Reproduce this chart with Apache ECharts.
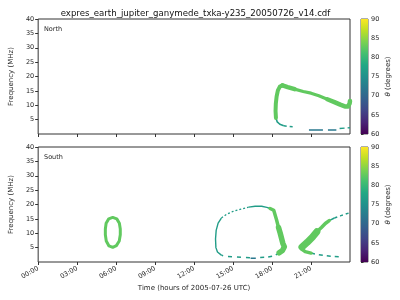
<!DOCTYPE html>
<html><head><meta charset="utf-8">
<script src="https://cdn.jsdelivr.net/npm/echarts@6/dist/echarts.min.js"></script>
<style>html,body{margin:0;padding:0;background:#fff}#c{width:400px;height:300px}</style>
</head><body><div id="c"></div>
<script>
// ---------- data ----------
const chartTitle = 'expres_earth_jupiter_ganymede_txka-y235_20050726_v14.cdf';
const panelNames = ['North', 'South'];
const xTickHours = [0, 3, 6, 9, 12, 15, 18, 21];
const yTicks = [5, 10, 15, 20, 25, 30, 35, 40];
const cbRange = [60, 90];

const thetaCore = 82.6;
const thetaEdge = 76.5;
const thetaFloor = 72;

// North panel: [hour, MHz]
const nRise   = [[18.30,5.6],[18.27,8.0],[18.29,10.5],[18.35,13.0],[18.45,15.2],[18.60,16.5],[18.80,16.9]];
const nPeak   = [[18.80,16.9],[19.20,16.3],[19.74,15.6]];
const nSlope  = [[19.74,15.6],[20.40,14.8],[21.00,14.2],[21.60,13.3],[22.25,12.1]];
const nTrough = [[22.25,12.1],[22.80,11.1],[23.25,10.2],[23.60,9.6],[23.85,9.6],[23.97,10.6],[24.00,11.5]];
const nTail   = [[18.30,5.6],[18.40,4.2],[18.60,3.4],[18.90,2.9]];
const nTailD  = [[18.90,2.9],[19.30,2.6],[19.70,2.5]];
const nFloor  = [[20.84,1.4],[22.95,1.4]];
const nEnd    = [[23.20,1.9],[24.00,2.2]];

// South panel: [hour, MHz]
const sRing   = [[5.74,15.5],[6.05,15.0],[6.25,13.5],[6.32,11.5],[6.32,9.5],[6.24,7.3],[6.02,5.7],[5.74,5.1],[5.45,5.6],[5.24,7.3],[5.17,9.5],[5.17,11.5],[5.23,13.5],[5.43,15.0],[5.74,15.5]];
const sArchL  = [[14.10,2.4],[13.80,3.5],[13.68,5.0],[13.65,8.0],[13.70,11.0],[13.85,13.5],[14.10,15.3]];
const sArchT  = [[14.10,15.3],[14.50,16.6],[15.00,17.6],[15.60,18.4],[16.20,19.1]];
const sArchTR = [[16.20,19.1],[16.70,19.4],[17.20,19.4],[17.60,19.0],[17.85,18.6]];
const sArchR1 = [[17.85,18.6],[18.13,18.0],[18.35,14.6],[18.50,12.0]];
const sArchR2 = [[18.50,12.0],[18.63,10.0],[18.83,6.5],[18.95,5.3],[18.80,4.0],[18.55,3.2]];
const sFloor  = [[18.55,3.2],[18.20,2.2],[17.70,1.7],[17.00,1.55],[16.80,1.45]];
const sFloorL = [[16.30,1.5],[15.20,1.8],[14.40,1.9],[14.10,2.4]];
const sFloorD = [[16.35,1.3],[16.75,1.3]];
const sWedge  = [[20.30,5.2],[20.70,6.8],[21.10,8.6],[21.45,10.5]];
const sWedgeU = [[21.45,10.5],[21.80,12.0],[22.10,13.4],[22.40,14.4]];
const sArmU   = [[22.40,14.4],[22.80,15.3]];
const sArmUD  = [[22.80,15.3],[23.30,16.1],[24.00,17.2]];
const sWedgeL = [[20.25,4.6],[20.55,3.6],[21.00,3.1]];
const sArmL   = [[21.00,3.1],[21.50,2.6],[22.00,2.3],[22.50,2.0],[23.20,1.8]];

// ---------- styles ----------
const viridisStops = ['#440154','#482475','#414487','#355f8d','#2a788e','#21918c','#22a884','#44bf70','#7ad151','#bddf26','#fde725'];
function hex(c){return [1,3,5].map(i=>parseInt(c.substr(i,2),16));}
function viridis(t){
  t=Math.max(0,Math.min(1,t)); const n=viridisStops.length-1; const i=Math.min(n-1,Math.floor(t*n)); const f=t*n-i;
  const a=hex(viridisStops[i]), b=hex(viridisStops[i+1]);
  return 'rgb('+a.map((v,k)=>Math.round(v+(b[k]-v)*f)).join(',')+')';
}
function thetaColor(th){return viridis((th-cbRange[0])/(cbRange[1]-cbRange[0]));}

const F = 'DejaVu Sans';
const TXT = '#262626';
const segments = [
  // [points, theta, panel, width, dash, roundCap]
  [nTail, thetaEdge, 0, 1.6, null, false],
  [nTailD, thetaEdge, 0, 1.5, [3,3], false],
  [nFloor, thetaFloor, 0, 1.5, [14,5], false],
  [nEnd, thetaEdge, 0, 1.5, [5,3], false],
  [nRise, thetaCore, 0, 4, null, true],
  [nPeak, thetaCore, 0, 4.5, null, true],
  [nSlope, thetaCore, 0, 3.2, null, true],
  [nTrough, thetaCore, 0, 4.5, null, true],
  [sRing, thetaCore, 1, 3, null, true],
  [sArchL, thetaEdge, 1, 1.4, null, false],
  [sArchT, thetaEdge, 1, 1.3, [2,2], false],
  [sArchTR, thetaEdge, 1, 1.4, null, false],
  [sFloor, thetaEdge, 1, 1.5, [4,4], false],
  [sFloorL, thetaEdge, 1, 1.5, [4,5], false],
  [sFloorD, thetaFloor, 1, 1.5, null, false],
  [sArmU, thetaEdge, 1, 1.5, null, false],
  [sArmUD, thetaEdge, 1, 1.4, [3,3], false],
  [sArmL, thetaEdge, 1, 1.5, [4,4], false],
  [sArchR1, thetaCore, 1, 3.5, null, true],
  [sArchR2, thetaCore, 1, 5.5, null, true],
  [sWedgeL, thetaCore, 1, 3.5, null, true],
  [sWedge, thetaCore, 1, 7, null, true],
  [sWedgeU, thetaCore, 1, 3.5, null, true]
];

const plotTops = [19, 147];
const plotH = 115;
const hourLabel = v => v >= 24 ? '' : (v < 10 ? '0' : '') + v + ':00';

const grids = [], xAxes = [], yAxes = [], series = [];
plotTops.forEach((top, p) => {
  grids.push({left: 31, width: 319, top: top, height: plotH, show: true, borderColor: '#333', borderWidth: 1, backgroundColor: '#fff'});
  xAxes.push({
    gridIndex: p, type: 'value', min: 0, max: 24, interval: 3,
    axisLine: {show: false}, splitLine: {show: false},
    axisTick: {show: true, inside: false, length: 3, customValues: xTickHours, lineStyle: {color: '#333'}},
    axisLabel: p === 1 ? {show: true, formatter: hourLabel, rotate: 30, align: 'right', verticalAlign: 'middle', fontFamily: F, fontSize: 6.5, color: TXT, margin: 6} : {show: false},
    name: p === 1 ? 'Time (hours of 2005-07-26 UTC)' : '', nameLocation: 'middle', nameGap: 23,
    nameTextStyle: {fontFamily: F, fontSize: 7, color: TXT}
  });
  yAxes.push({
    gridIndex: p, type: 'value', min: 0, max: 40,
    axisLine: {show: false}, splitLine: {show: false},
    axisTick: {show: true, inside: false, length: 3, customValues: yTicks, lineStyle: {color: '#333'}},
    axisLabel: {customValues: yTicks, fontFamily: F, fontSize: 6.5, color: TXT, margin: 4},
    name: 'Frequency (MHz)', nameLocation: 'middle', nameGap: 17,
    nameTextStyle: {fontFamily: F, fontSize: 7, color: TXT}
  });
});
// colorbars
plotTops.forEach((top, p) => {
  grids.push({left: 361, width: 7, top: top, height: plotH, show: true, borderColor: '#333', borderWidth: 0.8});
  xAxes.push({gridIndex: 2 + p, type: 'value', min: 0, max: 1, show: false});
  yAxes.push({
    gridIndex: 2 + p, type: 'value', min: cbRange[0], max: cbRange[1], interval: 5, position: 'right',
    axisLine: {show: false}, splitLine: {show: false},
    axisTick: {show: true, inside: false, length: 2.5, lineStyle: {color: '#333'}},
    axisLabel: {fontFamily: F, fontSize: 6.5, color: TXT, margin: 3},
    name: '{i|θ} (degrees)', nameLocation: 'middle', nameGap: 17, nameRotate: 90,
    nameTextStyle: {fontFamily: F, fontSize: 7, color: TXT, rich: {i: {fontStyle: 'italic', fontFamily: F, fontSize: 7, color: TXT}}}
  });
  series.push({
    type: 'custom', xAxisIndex: 2 + p, yAxisIndex: 2 + p, silent: true,
    data: [[0, cbRange[0], 1, cbRange[1]]],
    renderItem: (params, api) => {
      const a = api.coord([api.value(0), api.value(1)]);
      const b = api.coord([api.value(2), api.value(3)]);
      return {type: 'rect', shape: {x: a[0], y: b[1], width: b[0] - a[0], height: a[1] - b[1]},
        style: {fill: new echarts.graphic.LinearGradient(0, 1, 0, 0, viridisStops.map((c, i) => ({offset: i / (viridisStops.length - 1), color: c})))}};
    }
  });
});

segments.forEach(([pts, th, p, w, dash, rc]) => {
  series.push({
    type: 'line', xAxisIndex: p, yAxisIndex: p, data: pts, symbol: 'none', silent: true, clip: true,
    animation: false,
    lineStyle: {color: thetaColor(th), width: w, type: dash || 'solid', cap: rc ? 'round' : 'butt', join: 'round'}
  });
});

const chart = echarts.init(document.getElementById('c'), null, {renderer: 'canvas'});
chart.setOption({
  animation: false,
  backgroundColor: '#fff',
  title: {text: chartTitle, left: 190.5, textAlign: 'center', top: 4, textStyle: {fontFamily: F, fontSize: 8.6, fontWeight: 'normal', color: '#111'}},
  graphic: panelNames.map((t, p) => ({type: 'text', left: 44, top: plotTops[p] + 7, style: {text: t, font: '6.5px "DejaVu Sans"', fill: TXT}})),
  grid: grids, xAxis: xAxes, yAxis: yAxes, series: series
});
</script></body></html>
